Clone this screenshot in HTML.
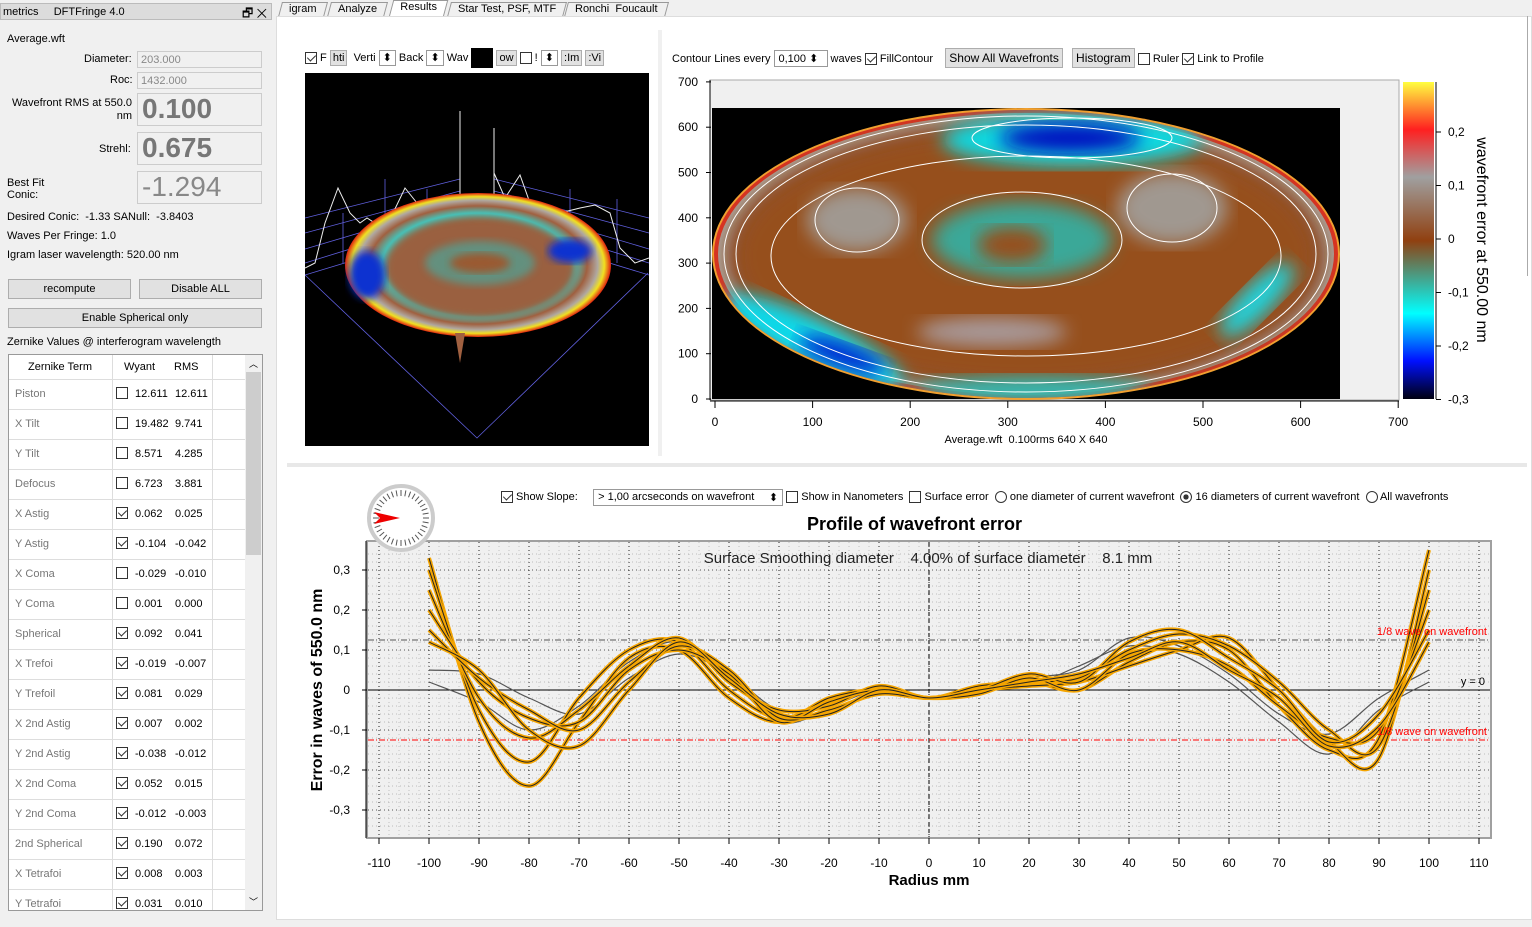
<!DOCTYPE html>
<html><head><meta charset="utf-8">
<style>
*{box-sizing:border-box}
body{margin:0;width:1532px;height:927px;background:#f0f0f0;font-family:"Liberation Sans",sans-serif;font-size:11px;color:#000;position:relative;overflow:hidden}
.a{position:absolute}
.inp{position:absolute;background:#f0f0f0;border:1px solid #ccc;color:#888;padding-left:3px;line-height:16px}
.big{position:absolute;border:1px solid #ccc;background:#f0f0f0;font-size:28px;padding-left:4px;line-height:30px}
.btn{position:absolute;border:1px solid #adadad;background:#e1e1e1;text-align:center;line-height:18px}
.cb{display:inline-block;width:12px;height:12px;border:1px solid #333;background:#fff;vertical-align:middle;position:relative}
.cb.on::after{content:"";position:absolute;left:3px;top:0px;width:4px;height:7px;border:solid #333;border-width:0 1.5px 1.5px 0;transform:rotate(45deg)}
.tab{position:absolute;top:2px;height:15px;border:1px solid #999;border-bottom:none;background:#f0f0f0;line-height:13px;padding:0 8px;transform:skewX(-15deg)}
.tab span{display:inline-block;transform:skewX(15deg)}
</style></head><body>
<div class="a" style="left:0;top:3px;width:272px;height:17px;background:#dcdcdc;border:1px solid #bbb"></div>
<div class="a" style="left:3px;top:6px">metrics&nbsp;&nbsp;&nbsp;&nbsp;&nbsp;DFTFringe 4.0</div>
<div class="a" style="left:242px;top:4px;font-size:12px">🗗 ✕</div>
<div class="a" style="left:7px;top:33px;font-size:11px">Average.wft</div>
<div class="a" style="left:84px;top:53px">Diameter:</div>
<div class="inp" style="left:137px;top:51px;width:125px;height:17px">203.000</div>
<div class="a" style="left:110px;top:74px">Roc:</div>
<div class="inp" style="left:137px;top:72px;width:125px;height:17px">1432.000</div>
<div class="a" style="left:10px;top:97px;width:122px;text-align:right;line-height:13px">Wavefront RMS at 550.0 nm</div>
<div class="big" style="left:137px;top:93px;width:125px;height:33px;color:#777;font-weight:bold">0.100</div>
<div class="a" style="left:99px;top:143px">Strehl:</div>
<div class="big" style="left:137px;top:132px;width:125px;height:33px;color:#777;font-weight:bold">0.675</div>
<div class="a" style="left:7px;top:177px;line-height:12px">Best Fit<br>Conic:</div>
<div class="big" style="left:137px;top:171px;width:125px;height:33px;color:#888">-1.294</div>
<div class="a" style="left:7px;top:211px">Desired Conic:&nbsp; -1.33 SANull:&nbsp; -3.8403</div>
<div class="a" style="left:7px;top:230px">Waves Per Fringe: 1.0</div>
<div class="a" style="left:7px;top:249px">Igram laser wavelength: 520.00 nm</div>
<div class="btn" style="left:8px;top:279px;width:123px;height:20px">recompute</div>
<div class="btn" style="left:139px;top:279px;width:123px;height:20px">Disable ALL</div>
<div class="btn" style="left:8px;top:308px;width:254px;height:20px">Enable Spherical only</div>
<div class="a" style="left:7px;top:336px">Zernike Values @ interferogram wavelength</div>
<div class="a" style="left:8px;top:354px;width:255px;height:557px;background:#fff;border:1px solid #999;overflow:hidden" id="ztab"></div>
<div class="a" style="left:245px;top:355px;width:17px;height:555px;background:#f0f0f0"><div style="position:absolute;left:1px;top:17px;width:15px;height:183px;background:#cdcdcd"></div><div style="position:absolute;left:4px;top:2px;font-size:9px">︿</div><div style="position:absolute;left:4px;bottom:2px;font-size:9px">﹀</div></div>

<div class="tab" style="left:280px"><span>igram</span></div>
<div class="tab" style="left:329px"><span>Analyze</span></div>
<div class="tab" style="left:391px;background:#fff;top:0;height:17px"><span>Results</span></div>
<div class="tab" style="left:449px"><span>Star Test, PSF, MTF</span></div>
<div class="tab" style="left:566px"><span>Ronchi&nbsp; Foucault</span></div>
<div class="a" style="left:276px;top:16px;width:1256px;height:904px;background:#fff;border:1px solid #ddd"></div>
<div class="a" style="left:287px;top:463px;width:1240px;height:4px;background:#e8e8e8"></div>
<div class="a" style="left:658px;top:30px;width:4px;height:426px;background:#f0f0f0"></div>
<div class="a" style="left:1527px;top:16px;width:5px;height:260px;border-left:1px solid #aaa"></div>

<div class="a" style="left:305px;top:48px;white-space:nowrap">
<span class="cb on"></span> F&nbsp;<span style="border:1px solid #adadad;background:#e1e1e1;padding:1px 2px">hti</span>&nbsp; Verti <span style="border:1px solid #999;padding:1px 3px">⬍</span> Back <span style="border:1px solid #999;padding:1px 3px">⬍</span> Wav <span style="display:inline-block;width:22px;height:20px;background:#000;vertical-align:middle"></span> <span style="border:1px solid #adadad;background:#e1e1e1;padding:1px 2px">ow</span> <span class="cb"></span> ! <span style="border:1px solid #999;padding:1px 3px">⬍</span> <span style="border:1px solid #adadad;background:#e1e1e1;padding:1px 2px">:Im</span> <span style="border:1px solid #adadad;background:#e1e1e1;padding:1px 2px">:Vi</span></div>
<svg class="a" style="left:305px;top:73px" width="344" height="373">
<defs>
<radialGradient id="g3" cx="50%" cy="50%" r="50%"><stop offset="0" stop-color="#a86a48"/><stop offset="0.55" stop-color="#9a5a32"/><stop offset="0.72" stop-color="#40c8c0"/><stop offset="0.82" stop-color="#a06040"/><stop offset="0.9" stop-color="#b0a8a0"/><stop offset="0.95" stop-color="#f0e020"/><stop offset="1" stop-color="#e02010"/></radialGradient>
<filter id="b3"><feGaussianBlur stdDeviation="4"/></filter>
</defs>
<rect width="344" height="373" fill="#000"/>
<g stroke="#6060e0" stroke-width="0.8" fill="none">
<polyline points="0,202 172,365 343,200"/>
<polyline points="0,145 155,106"/><polyline points="0,160 155,118"/><polyline points="0,176 155,130"/><polyline points="0,190 155,142"/><polyline points="0,202 155,155"/>
<polyline points="189,106 344,145"/><polyline points="189,118 344,160"/><polyline points="189,130 344,176"/><polyline points="189,142 344,190"/><polyline points="189,155 344,202"/>
<line x1="155" y1="106" x2="155" y2="155"/><line x1="189" y1="106" x2="189" y2="155"/>
<line x1="80" y1="106" x2="80" y2="175"/><line x1="122" y1="116" x2="122" y2="160"/>
<line x1="265" y1="116" x2="265" y2="170"/><line x1="312" y1="126" x2="312" y2="190"/>
<line x1="38" y1="140" x2="38" y2="190"/>
</g>
<polyline points="0,195 10,190 20,150 33,115 45,140 55,150 62,145 70,150 80,145 88,140 100,115 112,130 125,135 140,130 155,125" stroke="#eee" fill="none"/>
<line x1="155" y1="38" x2="155" y2="140" stroke="#eee"/>
<line x1="189" y1="55" x2="189" y2="130" stroke="#eee"/>
<polyline points="189,100 200,125 215,102 225,130 240,150 255,140 275,135 290,132 305,140 315,175 330,190 344,185" stroke="#eee" fill="none"/>
<ellipse cx="173" cy="192" rx="133" ry="72" fill="url(#g3)"/>
<ellipse cx="175" cy="195" rx="95" ry="50" fill="#9a6040" filter="url(#b3)"/>
<ellipse cx="175" cy="190" rx="55" ry="22" fill="#40b0a8" opacity="0.6" filter="url(#b3)"/>
<ellipse cx="175" cy="190" rx="30" ry="10" fill="#9a5a32" filter="url(#b3)"/>
<ellipse cx="62" cy="202" rx="18" ry="24" fill="#1030d0" filter="url(#b3)"/>
<ellipse cx="265" cy="178" rx="22" ry="12" fill="#1030d0" filter="url(#b3)"/>
<polygon points="150,260 155,290 160,260" fill="#a06040"/>
</svg>

<div class="a" style="left:672px;top:50px;white-space:nowrap">Contour Lines every <span style="border:1px solid #999;padding:1px 4px;display:inline-block;width:54px;background:#fff">0,100 ⬍</span> waves <span class="cb on"></span> FillContour&nbsp;&nbsp;&nbsp; <span style="border:1px solid #adadad;background:#e1e1e1;padding:2px 3px;font-size:12px">Show All Wavefronts</span> &nbsp;&nbsp;<span style="border:1px solid #adadad;background:#e1e1e1;padding:2px 3px;font-size:12px">Histogram</span> <span class="cb"></span> Ruler <span class="cb on"></span> Link to Profile</div>

<svg class="a" style="left:662px;top:70px" width="865" height="390">
<defs>
<linearGradient id="cbar" x1="0" y1="1" x2="0" y2="0"><stop offset="0" stop-color="#000010"/><stop offset="0.12" stop-color="#0010ff"/><stop offset="0.27" stop-color="#00ffff"/><stop offset="0.5" stop-color="#904010"/><stop offset="0.7" stop-color="#a0a0a0"/><stop offset="0.85" stop-color="#ff2020"/><stop offset="1" stop-color="#ffff40"/></linearGradient>
<clipPath id="ec"><ellipse cx="364" cy="184" rx="312" ry="144"/></clipPath>
<filter id="bl"><feGaussianBlur stdDeviation="9"/></filter>
</defs>
<rect x="48" y="10" width="689" height="320" fill="#f0f0f0" stroke="#aaa"/>
<rect x="50" y="38" width="628" height="291" fill="#000"/>
<ellipse cx="364" cy="184" rx="314" ry="146" fill="#f0a030"/>
<ellipse cx="364" cy="184" rx="312" ry="144" fill="#e03020"/>
<ellipse cx="364" cy="184" rx="308" ry="141" fill="#b0a8a0"/>
<g clip-path="url(#ec)">
<ellipse cx="364" cy="186" rx="300" ry="136" fill="#8a5030" filter="url(#bl)"/>
<ellipse cx="364" cy="186" rx="290" ry="128" fill="#96501c" filter="url(#bl)"/>
<ellipse cx="195" cy="150" rx="50" ry="32" fill="#a09890" filter="url(#bl)"/>
<ellipse cx="510" cy="138" rx="55" ry="36" fill="#a09890" filter="url(#bl)"/>
<ellipse cx="360" cy="170" rx="90" ry="38" fill="#3aa898" filter="url(#bl)"/>
<ellipse cx="350" cy="175" rx="35" ry="18" fill="#96501c" filter="url(#bl)"/>
<ellipse cx="330" cy="262" rx="75" ry="15" fill="#a89898" filter="url(#bl)"/>
<ellipse cx="410" cy="70" rx="130" ry="26" fill="#10d8e0" filter="url(#bl)"/>
<ellipse cx="408" cy="68" rx="70" ry="15" fill="#0010c0" filter="url(#bl)"/>
<ellipse cx="150" cy="272" rx="100" ry="24" fill="#10d8e8" filter="url(#bl)" transform="rotate(25 150 272)"/>
<ellipse cx="180" cy="285" rx="45" ry="12" fill="#0020d0" filter="url(#bl)" transform="rotate(20 180 285)"/>
<ellipse cx="595" cy="230" rx="50" ry="16" fill="#20d0d8" filter="url(#bl)" transform="rotate(-45 595 230)"/>
<ellipse cx="370" cy="320" rx="120" ry="14" fill="#30b8b0" filter="url(#bl)"/>
</g>
<g stroke="#fff" fill="none" stroke-width="1">
<ellipse cx="364" cy="184" rx="302" ry="138"/>
<ellipse cx="364" cy="184" rx="290" ry="129"/>
<ellipse cx="364" cy="186" rx="255" ry="100"/>
<ellipse cx="360" cy="170" rx="100" ry="48"/>
<ellipse cx="410" cy="68" rx="100" ry="20"/>
<ellipse cx="195" cy="150" rx="42" ry="32"/>
<ellipse cx="510" cy="138" rx="45" ry="34"/>
</g>
<g font-size="12" fill="#000" id="cax"></g>
<rect x="741" y="12" width="31" height="317" fill="url(#cbar)"/>
<line x1="774" y1="12" x2="774" y2="329" stroke="#000"/>
<text x="815" y="170" font-size="16" transform="rotate(90 815 170)" text-anchor="middle" fill="#000">wavefront error at 550.00 nm</text>
<text x="364" y="373" font-size="11" text-anchor="middle" fill="#000">Average.wft&nbsp; 0.100rms 640 X 640</text>
</svg>

<div class="a" style="left:501px;top:489px;white-space:nowrap">
<span class="cb on"></span> Show Slope:&nbsp;&nbsp;&nbsp;&nbsp; <span style="display:inline-block;border:1px solid #999;padding:1px 4px;width:190px;background:#fff">&gt; 1,00 arcseconds on wavefront <span style="float:right">⬍</span></span> <span class="cb"></span> Show in Nanometers&nbsp; <span class="cb"></span> Surface error&nbsp; <span class="cb" style="border-radius:50%"></span> one diameter of current wavefront&nbsp; <span class="cb" style="border-radius:50%;background:radial-gradient(#333 35%,#fff 40%)"></span> 16 diameters of current wavefront&nbsp; <span class="cb" style="border-radius:50%"></span> All wavefronts</div>
<div class="a" style="left:807px;top:514px;font-size:18px;font-weight:bold">Profile of wavefront error</div>

<svg class="a" id="prof" style="left:290px;top:530px" width="1237" height="390"></svg>

<svg class="a" style="left:364px;top:481px" width="74" height="74">
<circle cx="37" cy="37" r="32" fill="#fff" stroke="#ccc" stroke-width="4"/>
<g id="ticks"></g>
<polygon points="10,31 36,37 10,43 16,37" fill="#e00"/>
</svg>

<script>
const zTerms=["Piston","X Tilt","Y Tilt","Defocus","X Astig","Y Astig","X Coma","Y Coma","Spherical","X Trefoi","Y Trefoil","X 2nd Astig","Y 2nd Astig","X 2nd Coma","Y 2nd Coma","2nd Spherical","X Tetrafoi","Y Tetrafoi"];
const zWyant=["12.611","19.482","8.571","6.723","0.062","-0.104","-0.029","0.001","0.092","-0.019","0.081","0.007","-0.038","0.052","-0.012","0.190","0.008","0.031"];
const zRms=["12.611","9.741","4.285","3.881","0.025","-0.042","-0.010","0.000","0.041","-0.007","0.029","0.002","-0.012","0.015","-0.003","0.072","0.003","0.010"];
const zOn=[0,0,0,0,1,1,0,0,1,1,1,1,1,1,1,1,1,1];
const zt=document.getElementById('ztab');
let h='<div style="position:absolute;left:0;top:0;width:236px;height:24px"><span style="position:absolute;left:19px;top:6px">Zernike Term</span><span style="position:absolute;left:115px;top:6px">Wyant</span><span style="position:absolute;left:165px;top:6px">RMS</span></div>';
h+='<div style="position:absolute;left:103px;top:0;width:1px;height:560px;background:#ddd"></div><div style="position:absolute;left:203px;top:0;width:1px;height:560px;background:#ddd"></div>';
zTerms.forEach((t,i)=>{const y=24+i*30;
h+=`<div style="position:absolute;left:0;top:${y}px;width:236px;height:30px;border-top:1px solid #ddd"><span style="position:absolute;left:6px;top:8px;color:#777">${t}</span><span class="cb ${zOn[i]?'on':''}" style="position:absolute;left:107px;top:7px"></span><span style="position:absolute;left:126px;top:8px">${zWyant[i]}</span><span style="position:absolute;left:166px;top:8px">${zRms[i]}</span></div>`;});
zt.innerHTML=h;

const cTicks=[0,100,200,300,400,500,600,700];
const cbTicks=["0,2","0,1","0","-0,1","-0,2","-0,3"];
const cax=document.getElementById('cax');let ca='';
cTicks.forEach(v=>{const x=53+v*0.976,y=329-v*0.453;
ca+=`<line x1="${x}" y1="331" x2="${x}" y2="338" stroke="#000"/><text x="${x}" y="356" text-anchor="middle">${v}</text>`;
ca+=`<line x1="44" y1="${y}" x2="49" y2="${y}" stroke="#000"/><text x="36" y="${y+4}" text-anchor="end">${v}</text>`;});
ca+='<line x1="48" y1="331" x2="737" y2="331" stroke="#000"/><line x1="48" y1="10" x2="48" y2="330" stroke="#000"/>';
cbTicks.forEach((t,i)=>{const y=62+i*53.5;ca+=`<text x="786" y="${y+4}">${t}</text><line x1="774" y1="${y}" x2="779" y2="${y}" stroke="#000"/>`;});
cax.innerHTML=ca;

const radii=[-100,-90,-80,-70,-60,-50,-40,-30,-20,-10,0,10,20,30,40,50,60,70,80,90,100];
const s1=[0.33,-0.08,-0.24,-0.08,0.08,0.10,-0.02,-0.08,-0.02,0.00,-0.02,0.00,0.02,0.00,0.07,0.12,0.10,-0.04,-0.15,-0.12,0.35];
const s2=[0.30,-0.05,-0.18,-0.02,0.10,0.12,0.00,-0.07,-0.03,0.00,-0.02,0.00,0.01,0.02,0.06,0.10,0.13,0.00,-0.13,-0.17,0.30];
const s3=[0.25,-0.02,-0.12,-0.05,0.06,0.13,0.02,-0.05,-0.04,0.01,-0.02,0.01,0.02,0.03,0.10,0.14,0.11,0.02,-0.10,-0.14,0.25];
const s4=[0.20,0.02,-0.07,-0.08,0.05,0.10,0.04,-0.08,-0.03,0.00,-0.02,-0.01,0.03,0.00,0.09,0.10,0.06,-0.04,-0.12,-0.10,0.20];
const s5=[0.15,0.03,-0.05,-0.10,0.02,0.11,0.05,-0.07,-0.05,-0.01,-0.02,0.00,0.04,0.02,0.12,0.15,0.08,0.00,-0.13,-0.06,0.15];
const s6=[0.12,0.05,-0.10,-0.14,0.00,0.12,0.03,-0.06,-0.06,0.00,-0.02,0.00,0.02,0.04,0.08,0.12,0.05,-0.02,-0.14,-0.09,0.12];
const g1=[0.05,0.04,-0.02,-0.06,0.03,0.09,0.04,-0.05,-0.04,0.00,-0.02,0.00,0.03,0.05,0.13,0.11,0.04,-0.06,-0.11,-0.02,0.05];
const g2=[0.02,-0.03,-0.10,-0.04,0.07,0.12,0.03,-0.08,-0.05,-0.01,-0.02,0.00,0.01,0.06,0.11,0.09,0.02,-0.08,-0.16,-0.05,0.02];
const xTicks=[-110,-100,-90,-80,-70,-60,-50,-40,-30,-20,-10,0,10,20,30,40,50,60,70,80,90,100,110];
const yTicks=[0.3,0.2,0.1,0,-0.1,-0.2,-0.3];
const yLabels=["0,3","0,2","0,1","0","-0,1","-0,2","-0,3"];
const eighth=0.125;

const X=r=>639+r*5, Y=v=>160-v*400;
const svg=document.getElementById('prof');
const NS='http://www.w3.org/2000/svg';
function mk(t,a,p){const e=document.createElementNS(NS,t);for(const k in a)e.setAttribute(k,a[k]);(p||svg).appendChild(e);return e;}
let e=mk('rect',{x:77,y:11,width:1124,height:297,fill:'#f0f0f0',stroke:'#a0a0a0','stroke-width':2});


for(let r=-110;r<=110;r+=2){mk('line',{x1:X(r),y1:12,x2:X(r),y2:307,stroke:r%10===0?'#222':'#aaa','stroke-dasharray':'1 3','stroke-width':r%10===0?1:0.7});}
for(let v=-0.34;v<=0.36;v+=0.02){const vv=Math.round(v*100)/100;mk('line',{x1:78,y1:Y(vv),x2:1200,y2:Y(vv),stroke:Math.abs(Math.round(vv*100))%10===0?'#222':'#aaa','stroke-dasharray':'1 3','stroke-width':0.7});}
mk('line',{x1:X(0),y1:12,x2:X(0),y2:307,stroke:'#000','stroke-dasharray':'4 3'});
mk('line',{x1:78,y1:Y(0),x2:1200,y2:Y(0),stroke:'#000'});
mk('line',{x1:78,y1:Y(eighth),x2:1200,y2:Y(eighth),stroke:'#555','stroke-dasharray':'6 2 1 2'});
mk('line',{x1:78,y1:Y(-eighth),x2:1200,y2:Y(-eighth),stroke:'#f00','stroke-dasharray':'6 2 1 2'});
function path(arr){const p=radii.map((r,i)=>[X(r),Y(arr[i])]);let d=`M${p[0][0]},${p[0][1]}`;
for(let i=0;i<p.length-1;i++){const p0=p[Math.max(0,i-1)],p1=p[i],p2=p[i+1],p3=p[Math.min(p.length-1,i+2)];
d+=` C${p1[0]+(p2[0]-p0[0])/6},${p1[1]+(p2[1]-p0[1])/6} ${p2[0]-(p3[0]-p1[0])/6},${p2[1]-(p3[1]-p1[1])/6} ${p2[0]},${p2[1]}`;}return d;}
[g1,g2].forEach(s=>{const l=mk('path',{d:path(s),fill:'none',stroke:'#555','stroke-width':1.2});

});
[s1,s2,s3,s4,s5,s6].forEach(s=>{const d=path(s);
const o=mk('path',{d,fill:'none',stroke:'#f5a500','stroke-width':4});


const l=mk('path',{d,fill:'none',stroke:'#222','stroke-width':1});

});
xTicks.forEach(t=>{mk('line',{x1:X(t),y1:308,x2:X(t),y2:314,stroke:'#000'});const tx=mk('text',{x:X(t),y:337,'font-size':12,'text-anchor':'middle'});tx.textContent=t;});
yTicks.forEach((t,i)=>{const tx=mk('text',{x:60,y:Y(t)+4,'font-size':12,'text-anchor':'end'});tx.textContent=yLabels[i];mk('line',{x1:72,y1:Y(t),x2:77,y2:Y(t),stroke:'#000'});});
mk('line',{x1:76,y1:11,x2:76,y2:308,stroke:'#000'});
let t=mk('text',{x:639,y:355,'font-size':15,'font-weight':'bold','text-anchor':'middle'});t.textContent='Radius mm';

t=mk('text',{x:32,y:160,'font-size':16,'font-weight':'bold','text-anchor':'middle',transform:'rotate(-90 32 160)'});t.textContent='Error in waves of  550.0 nm';

t=mk('text',{x:638,y:33,'font-size':15,'text-anchor':'middle','fill':'#222','xml:space':'preserve',style:'white-space:pre'});t.textContent='Surface Smoothing diameter    4.00% of surface diameter    8.1 mm';

t=mk('text',{x:1197,y:105,'font-size':11,'text-anchor':'end',fill:'#f00'});t.textContent='1/8 wave on wavefront';
t=mk('text',{x:1197,y:205,'font-size':11,'text-anchor':'end',fill:'#f00'});t.textContent='1/8 wave on wavefront';
t=mk('text',{x:1195,y:155,'font-size':11,'text-anchor':'end'});t.textContent='y = 0';
const tk=document.getElementById('ticks');
for(let a=0;a<360;a+=10){const r=a*Math.PI/180;mk('line',{x1:37+Math.cos(r)*22,y1:37+Math.sin(r)*22,x2:37+Math.cos(r)*28,y2:37+Math.sin(r)*28,stroke:'#555'},tk);}
</script>
</body></html>
